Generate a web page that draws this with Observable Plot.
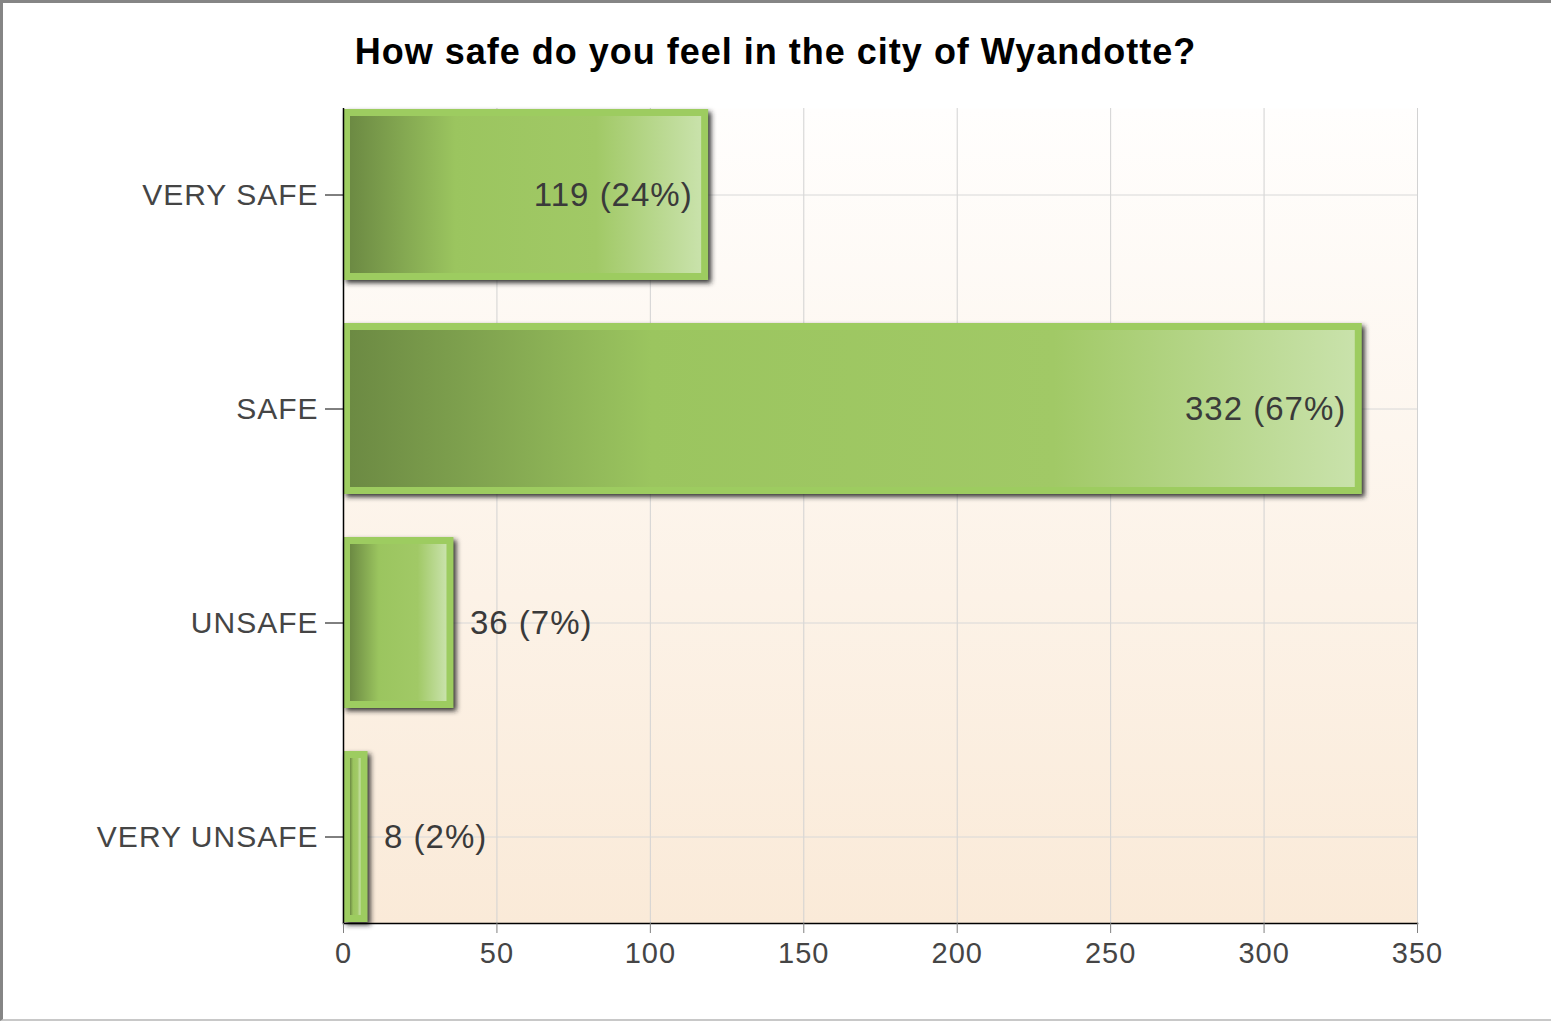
<!DOCTYPE html>
<html><head><meta charset="utf-8">
<script src="https://cdn.jsdelivr.net/npm/d3@7"></script>
<script src="https://cdn.jsdelivr.net/npm/@observablehq/plot@0.6"></script>
<style>
html,body{margin:0;padding:0;background:#fff;}
#wrap{position:relative;width:1551px;height:1021px;box-sizing:border-box;border-left:3px solid #858585;border-top:3px solid #858585;border-bottom:2px solid #c8c8c8;overflow:hidden;font-family:"Liberation Sans",Arial,sans-serif;}
#title{position:absolute;left:0;top:31px;width:1545px;text-align:center;font-weight:bold;font-size:36px;line-height:36px;letter-spacing:1px;color:#000;}
#chart{position:absolute;left:0;top:87px;}
</style></head><body>
<div id="wrap"><div id="title">How safe do you feel in the city of Wyandotte?</div><div id="chart"></div></div>
<script>
const categories = ["VERY SAFE", "SAFE", "UNSAFE", "VERY UNSAFE"];
const counts = [119, 332, 36, 8];
const percents = [24, 67, 7, 2];
const xTicks = [0, 50, 100, 150, 200, 250, 300, 350];

const data = categories.map((c, i) => ({category: c, count: counts[i], pct: percents[i], label: `${counts[i]} (${percents[i]}%)`}));

const svg = Plot.plot({
  width: 1548,
  height: 929,
  marginLeft: 340,
  marginRight: 134,
  marginTop: 18,
  marginBottom: 96,
  style: {fontFamily: "'Liberation Sans', Arial, sans-serif", letterSpacing: "1px", background: "transparent", overflow: "visible"},
  x: {domain: [0, 350]},
  y: {domain: categories, paddingInner: 0.2, paddingOuter: 0},
  marks: [
    Plot.frame({fill: "url(#bgGrad)", stroke: "none"}),
    Plot.gridX(xTicks, {stroke: "#d2d2d2", strokeOpacity: 1}),
    Plot.gridY({stroke: "#d8d8d8", strokeOpacity: 1}),
    Plot.barX(data, {x: "count", y: "category", dx: 3, dy: 3, fill: "#222", fillOpacity: 0.9}),
    Plot.barX(data, {x: "count", y: "category", fill: "#9dcc60"}),
    Plot.barX(data, {x: "count", y: "category", inset: 7, fill: "url(#barGrad)"}),
    Plot.ruleX([0], {stroke: "#000", strokeWidth: 1.5}),
    Plot.frame({anchor: "bottom", stroke: "#000", strokeWidth: 1.5}),
    Plot.axisY({tickSize: 18, tickPadding: 7, fontSize: 30, fill: "#454545", stroke: "#000", label: null}),
    Plot.axisX({ticks: xTicks, tickSize: 10, tickPadding: 9, fontSize: 29, fill: "#454545", stroke: "#808080", label: null}),
    Plot.text(data.filter(d => d.count > 100), {x: "count", y: "category", text: "label", textAnchor: "end", dx: -16, fontSize: 33, fill: "#3a3a3a"}),
    Plot.text(data.filter(d => d.count <= 100), {x: "count", y: "category", text: "label", textAnchor: "start", dx: 16, fontSize: 33, fill: "#3a3a3a"})
  ]
});

const s = d3.select(svg);
s.insert("defs", ":first-child").html(`
  <linearGradient id="bgGrad" x1="0" y1="0" x2="0" y2="1">
    <stop offset="0" stop-color="#fffefd"/>
    <stop offset="1" stop-color="#faead8"/>
  </linearGradient>
  <linearGradient id="barGrad" x1="0" y1="0" x2="1" y2="0">
    <stop offset="0" stop-color="#6c8a43"/>
    <stop offset="0.3" stop-color="#9bc55f"/>
    <stop offset="0.7" stop-color="#a1c966"/>
    <stop offset="1" stop-color="#c9e2ab"/>
  </linearGradient>
  <filter id="blur" x="-20%" y="-20%" width="150%" height="150%">
    <feGaussianBlur stdDeviation="2.5"/>
  </filter>
`);
const barGroups = s.selectAll('g[aria-label="bar"]').nodes();
if (barGroups.length) d3.select(barGroups[0]).attr("filter", "url(#blur)");
document.getElementById("chart").appendChild(svg);
</script>
</body></html>
